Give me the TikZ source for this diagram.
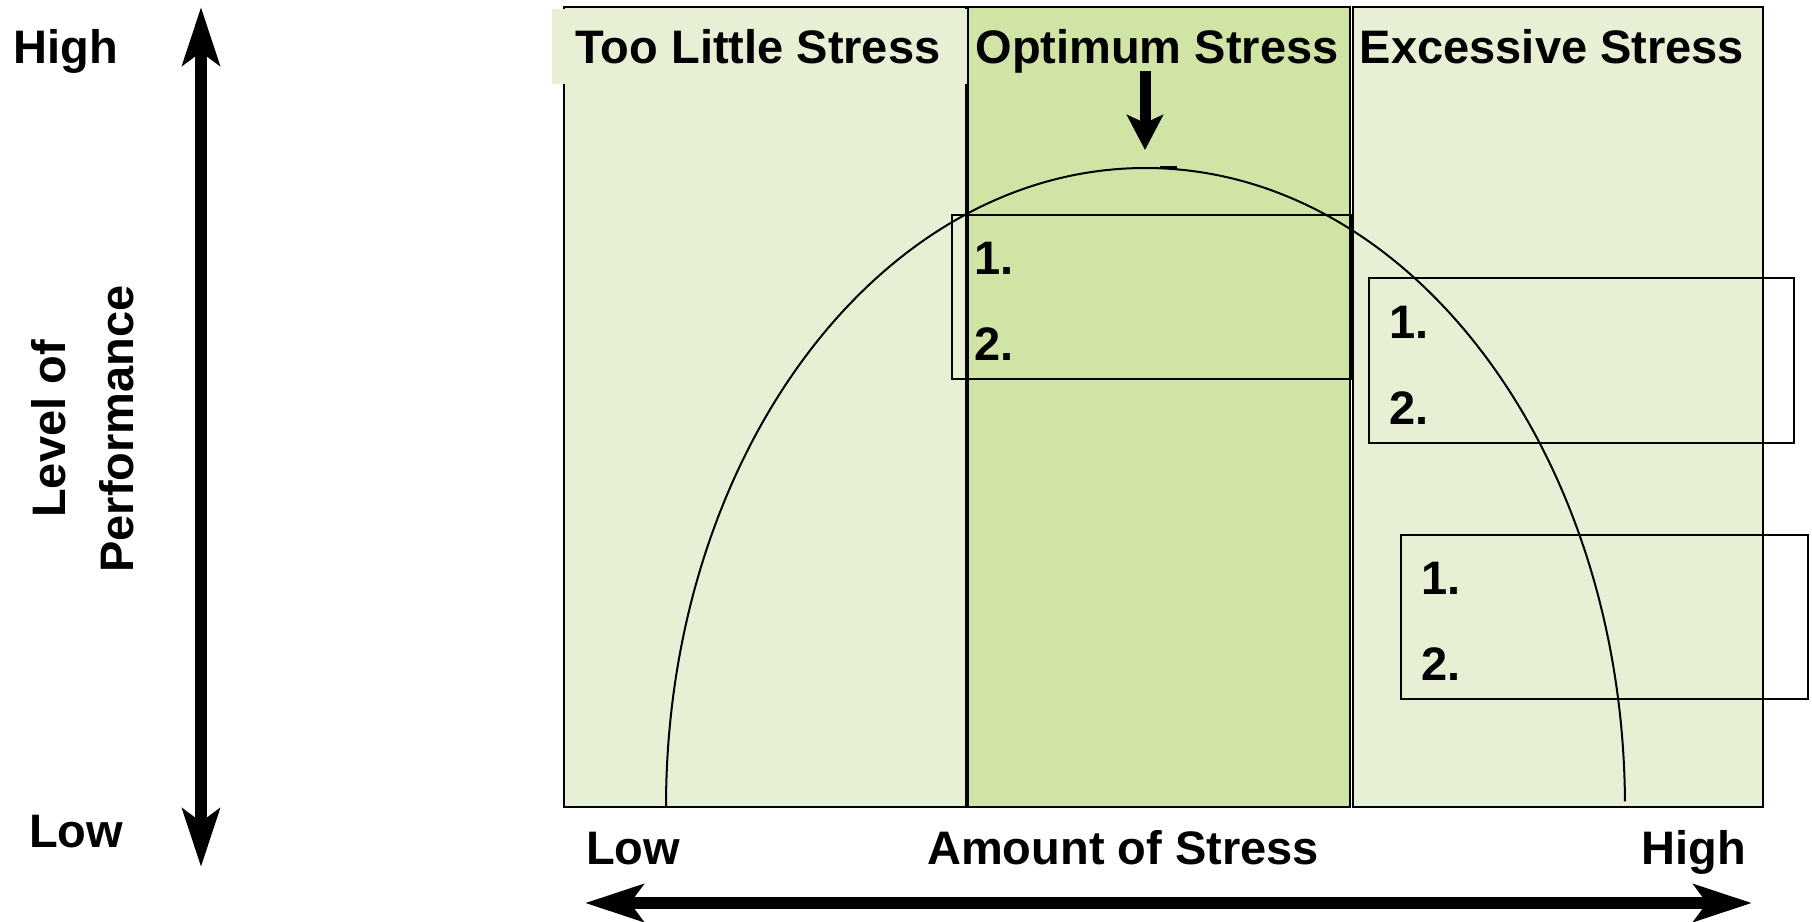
\documentclass[tikz,border=0pt]{standalone}
\usepackage{fontspec}
\setmainfont{Liberation Sans}
\usetikzlibrary{arrows.meta}
\definecolor{lightg}{HTML}{E7F0D4}
\definecolor{midg}{HTML}{D0E4A6}
\begin{document}
\begin{tikzpicture}[x=0.5pt,y=-0.5pt,
  panel/.style={draw=black,line width=0.9pt},
  listbox/.style={draw=black,line width=0.8pt},
  lbl/.style={font=\fontsize{23.5}{28}\selectfont\bfseries,inner sep=0pt,anchor=base},
  vlbl/.style={font=\fontsize{23.5}{28}\selectfont\bfseries,inner sep=0pt,rotate=90},
  bigarrow/.style={line width=6pt,{Stealth[length=29pt,width=18.5pt,inset=6.5pt]}-{Stealth[length=29pt,width=18.5pt,inset=6.5pt]}},
  downarrow/.style={line width=5.5pt,-{Stealth[length=17.5pt,width=18pt,inset=4pt]}},
  curve/.style={draw=black,line width=1pt}
]
\useasboundingbox (0,0) rectangle (1812,922);
% panels
\draw[panel,fill=lightg] (564,7) rectangle (966,807);
\fill[lightg] (552,8.5) rectangle (967,84);
\draw[panel,fill=midg] (968,7) rectangle (1350,807);
\draw[panel,fill=lightg] (1353,7) rectangle (1763,807);
% headers
\node[lbl] (h1) at (758,63) {Too Little Stress};
\node[lbl] (h2) at (1157,63) {Optimum Stress};
\node[lbl] (h3) at (1552,63) {Excessive Stress};
% curve
\draw[curve] (666,807) arc[start angle=180,end angle=359.5,x radius=479.5,y radius=639];
\draw[line width=1.6pt] (1160,167.5) -- (1177,167.5);
% down arrow
\coordinate (dtop) at (1145,71);
\coordinate (dtip) at (1145,150);
\draw[downarrow] (dtop) -- (dtip);
% list boxes
\draw[listbox] (952,215) rectangle (1352,379);
\draw[listbox] (1369,278) rectangle (1794,443);
\draw[listbox] (1401,535) rectangle (1808,699);
\node[lbl,anchor=base west] (a1) at (974,274) {1.};
\node[lbl,anchor=base west] (a2) at (974,360) {2.};
\node[lbl,anchor=base west] (b1) at (1389,338) {1.};
\node[lbl,anchor=base west] (b2) at (1389,424) {2.};
\node[lbl,anchor=base west] (c1) at (1421,594) {1.};
\node[lbl,anchor=base west] (c2) at (1421,680) {2.};
% vertical axis
\coordinate (vtop) at (201,7);
\coordinate (vbot) at (201,867);
\draw[bigarrow] (vbot) -- (vtop);
\node[lbl] (yhigh) at (66,63) {High};
\node[lbl] (ylow) at (76,847) {Low};
\node[vlbl] (ylab1) at (49,429) {Level of};
\node[vlbl] (ylab2) at (117,429) {Performance};
% horizontal axis
\coordinate (hleft) at (585,903);
\coordinate (hright) at (1752,903);
\draw[bigarrow] (hleft) -- (hright);
\node[lbl] (xlow) at (633,864) {Low};
\node[lbl] (xlab) at (1123,864) {Amount of Stress};
\node[lbl] (xhigh) at (1694,864) {High};
\end{tikzpicture}
\end{document}
